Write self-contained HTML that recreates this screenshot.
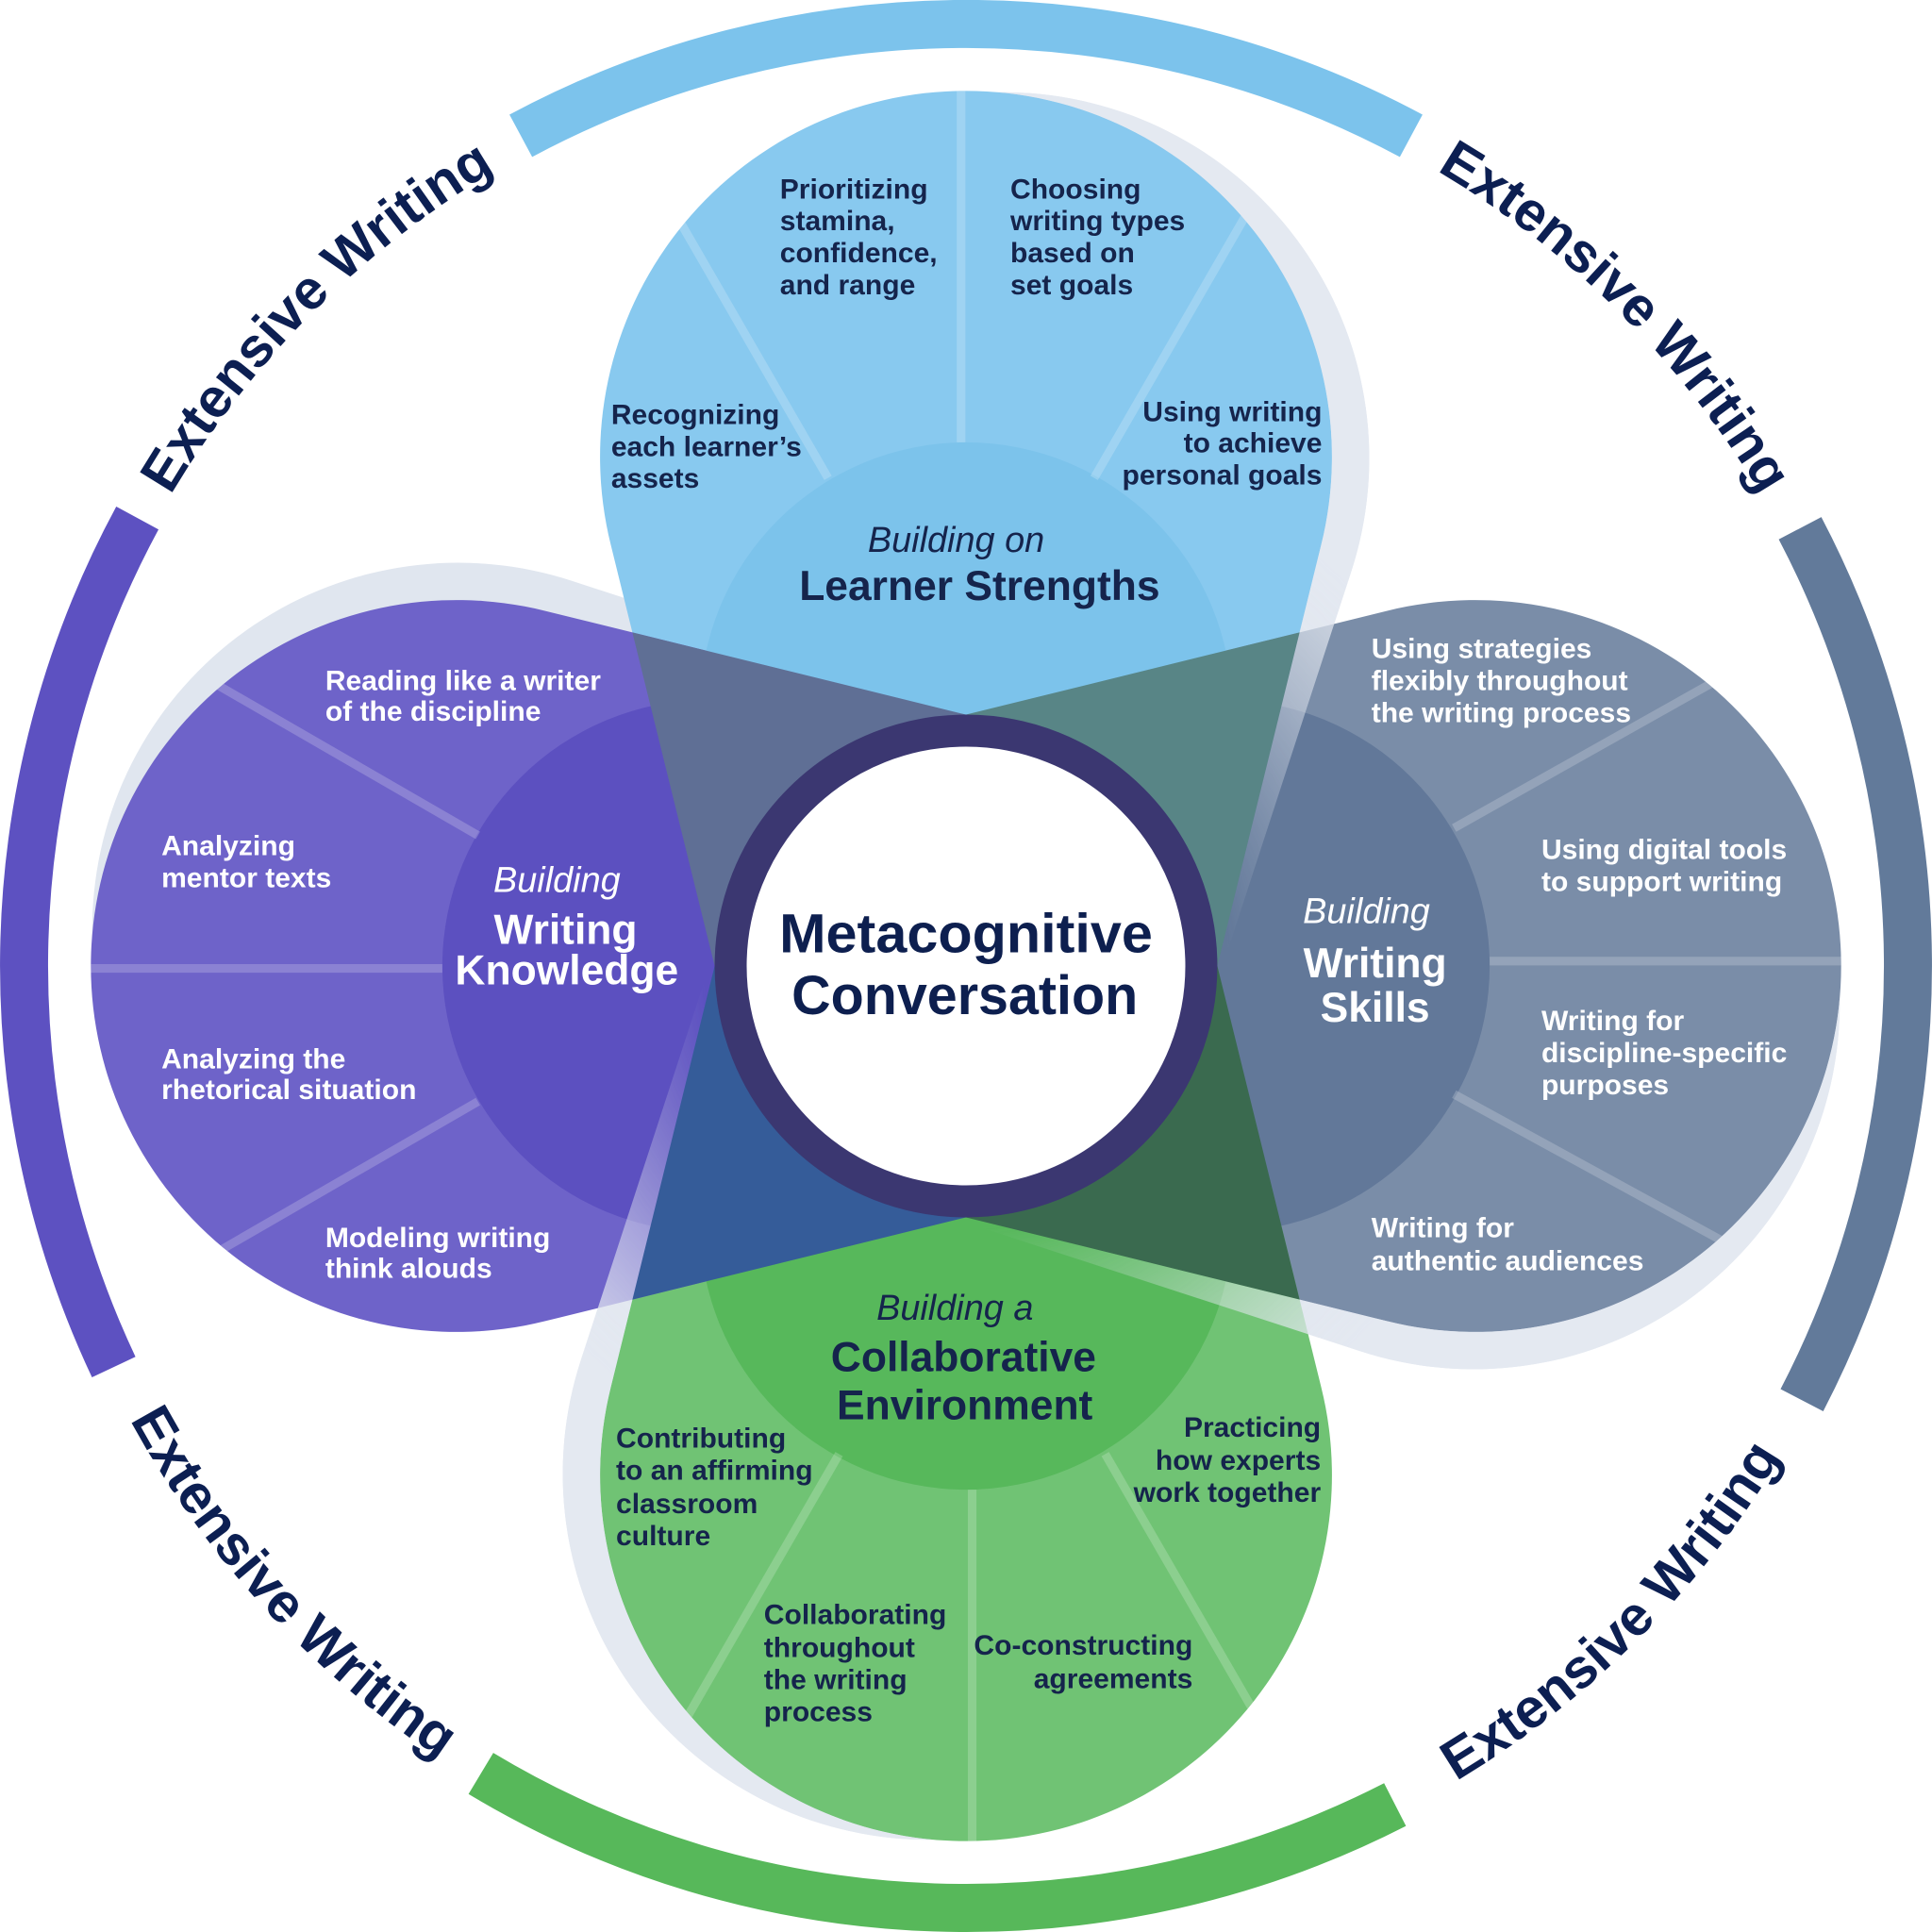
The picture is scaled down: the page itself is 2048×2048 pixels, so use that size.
<!DOCTYPE html>
<html>
<head>
<meta charset="utf-8">
<style>
html,body{margin:0;padding:0;background:#fff;}
svg{display:block;}
text{font-family:"Liberation Sans",Arial,sans-serif;}
</style>
</head>
<body>
<svg width="2048" height="2048" viewBox="0 0 1568 1568" xmlns="http://www.w3.org/2000/svg">
<defs>
  <clipPath id="cTop"><path d="M580,784 L495.7,442.1 A297,297 0 1,1 1072.3,442.1 L988,784 Z"/></clipPath>
  <clipPath id="cRight"><path d="M784,580 L1125.9,495.7 A297,297 0 1,1 1125.9,1072.3 L784,988 Z"/></clipPath>
  <clipPath id="cBottom"><path d="M988,784 L1072.3,1125.9 A297,297 0 1,1 495.7,1125.9 L580,784 Z"/></clipPath>
  <clipPath id="cLeft"><path d="M784,988 L442.1,1072.3 A297,297 0 1,1 442.1,495.7 L784,580 Z"/></clipPath>

  <radialGradient id="fadeG" gradientUnits="userSpaceOnUse" cx="784" cy="784" r="784">
    <stop offset="0.27" stop-color="#000"/>
    <stop offset="0.56" stop-color="#fff"/>
  </radialGradient>
  <mask id="mTop" maskUnits="userSpaceOnUse" x="0" y="0" width="1568" height="1568">
    <rect width="1568" height="1568" fill="url(#fadeG)"/>
    <path d="M580,784 L495.7,442.1 A297,297 0 1,1 1072.3,442.1 L988,784 Z" fill="#000"/>
  </mask>
  <mask id="mRight" maskUnits="userSpaceOnUse" x="0" y="0" width="1568" height="1568">
    <rect width="1568" height="1568" fill="url(#fadeG)"/>
    <path d="M784,580 L1125.9,495.7 A297,297 0 1,1 1125.9,1072.3 L784,988 Z" fill="#000"/>
  </mask>
  <mask id="mBottom" maskUnits="userSpaceOnUse" x="0" y="0" width="1568" height="1568">
    <rect width="1568" height="1568" fill="url(#fadeG)"/>
    <path d="M988,784 L1072.3,1125.9 A297,297 0 1,1 495.7,1125.9 L580,784 Z" fill="#000"/>
  </mask>

  <path id="twTL" d="M34,784 A750,750 0 0,1 784,34"/>
  <path id="twTR" d="M784,34 A750,750 0 0,1 1534,784"/>
  <path id="twBL" d="M12,784 A772,772 0 0,0 784,1556"/>
  <path id="twBR" d="M784,1556 A772,772 0 0,0 1556,784"/>
</defs>

<rect width="1568" height="1568" fill="#fff"/>

<!-- Outer arcs -->
<g fill="none" stroke-width="39">
  <path d="M422.7,110.2 A764.5,764.5 0 0,1 1145.3,110.2" stroke="#7cc3ec"/>
  <path d="M1460.9,428.7 A764.5,764.5 0 0,1 1462.4,1136.4" stroke="#627a9a"/>
  <path d="M1132.2,1464.6 A764.5,764.5 0 0,1 390.3,1439.3" stroke="#57b85a"/>
  <path d="M92.3,1109.5 A764.5,764.5 0 0,1 111.5,420.4" stroke="#5d51c1"/>
</g>

<!-- Extensive Writing labels -->
<g font-weight="bold" font-size="45" fill="#0c1f52">
  <text><textPath href="#twTL" startOffset="50%" text-anchor="middle">Extensive Writing</textPath></text>
  <text><textPath href="#twTR" startOffset="50%" text-anchor="middle">Extensive Writing</textPath></text>
  <text><textPath href="#twBL" startOffset="47.2%" text-anchor="middle">Extensive Writing</textPath></text>
  <text><textPath href="#twBR" startOffset="50%" text-anchor="middle">Extensive Writing</textPath></text>
</g>

<!-- Solid shadows -->
<g fill="#e0e6ef">
  <path d="M580,784 L495.7,442.1 A297,297 0 1,1 1072.3,442.1 L988,784 Z" transform="rotate(4.2 784 784)"/>
  <path d="M784,580 L1125.9,495.7 A297,297 0 1,1 1125.9,1072.3 L784,988 Z" transform="rotate(4.2 784 784)"/>
  <path d="M988,784 L1072.3,1125.9 A297,297 0 1,1 495.7,1125.9 L580,784 Z" transform="rotate(4.2 784 784)"/>
  <path d="M784,988 L442.1,1072.3 A297,297 0 1,1 442.1,495.7 L784,580 Z" transform="rotate(4.2 784 784)"/>
</g>

<!-- Petals -->
<path d="M580,784 L495.7,442.1 A297,297 0 1,1 1072.3,442.1 L988,784 Z" fill="#88c9ef"/>
<path d="M784,580 L1125.9,495.7 A297,297 0 1,1 1125.9,1072.3 L784,988 Z" fill="#7a8da8"/>
<path d="M988,784 L1072.3,1125.9 A297,297 0 1,1 495.7,1125.9 L580,784 Z" fill="#70c374"/>
<path d="M784,988 L442.1,1072.3 A297,297 0 1,1 442.1,495.7 L784,580 Z" fill="#6e63c9"/>

<!-- Hubs -->
<circle cx="784" cy="575" r="216" fill="#7cc3eb" clip-path="url(#cTop)"/>
<circle cx="993" cy="784" r="216" fill="#627899" clip-path="url(#cRight)"/>
<circle cx="784" cy="993" r="216" fill="#57b85b" clip-path="url(#cBottom)"/>
<circle cx="575" cy="784" r="216" fill="#5c50c0" clip-path="url(#cLeft)"/>

<!-- Spokes -->
<g stroke="#fff" stroke-opacity="0.2" stroke-width="7" fill="none">
  <g clip-path="url(#cTop)"><g transform="translate(-4,0)">
    <line x1="784" y1="359" x2="784" y2="55"/>
    <line x1="676" y1="387.9" x2="524" y2="124.7"/>
    <line x1="892" y1="387.9" x2="1044" y2="124.7"/>
  </g></g>
  <g clip-path="url(#cRight)"><g transform="translate(0,-4)">
    <line x1="1209" y1="784" x2="1513" y2="784"/>
    <line x1="1180.1" y1="676" x2="1443.3" y2="528"/>
    <line x1="1180.1" y1="892" x2="1443.3" y2="1036"/>
  </g></g>
  <g clip-path="url(#cBottom)"><g transform="translate(5,0)">
    <line x1="784" y1="1209" x2="784" y2="1513"/>
    <line x1="892" y1="1180.1" x2="1044" y2="1443.3"/>
    <line x1="676" y1="1180.1" x2="524" y2="1443.3"/>
  </g></g>
  <g clip-path="url(#cLeft)"><g transform="translate(0,2)">
    <line x1="359" y1="784" x2="55" y2="784"/>
    <line x1="387.9" y1="892" x2="124.7" y2="1044"/>
    <line x1="387.9" y1="676" x2="124.7" y2="524"/>
  </g></g>
</g>

<!-- Overlaps -->
<g clip-path="url(#cLeft)">
  <path d="M580,784 L495.7,442.1 A297,297 0 1,1 1072.3,442.1 L988,784 Z" fill="#5f6f95"/>
  <path d="M988,784 L1072.3,1125.9 A297,297 0 1,1 495.7,1125.9 L580,784 Z" fill="#355c99"/>
</g>
<g clip-path="url(#cRight)">
  <path d="M580,784 L495.7,442.1 A297,297 0 1,1 1072.3,442.1 L988,784 Z" fill="#588586"/>
  <path d="M988,784 L1072.3,1125.9 A297,297 0 1,1 495.7,1125.9 L580,784 Z" fill="#3a6a4f"/>
</g>

<!-- Shadow tails over neighbouring petals -->
<g mask="url(#mTop)"><path d="M580,784 L495.7,442.1 A297,297 0 1,1 1072.3,442.1 L988,784 Z" transform="rotate(4.2 784 784)" fill="#e4e9f1" opacity="0.85"/></g>
<g mask="url(#mRight)"><path d="M784,580 L1125.9,495.7 A297,297 0 1,1 1125.9,1072.3 L784,988 Z" transform="rotate(4.2 784 784)" fill="#e4e9f1" opacity="0.85"/></g>
<g mask="url(#mBottom)"><path d="M988,784 L1072.3,1125.9 A297,297 0 1,1 495.7,1125.9 L580,784 Z" transform="rotate(4.2 784 784)" fill="#e4e9f1" opacity="0.85"/></g>

<!-- Center ring -->
<circle cx="784" cy="784" r="191" fill="#fff" stroke="#3b3771" stroke-width="26"/>
<g font-weight="bold" font-size="45" fill="#0d1f4f" text-anchor="middle">
  <text x="784" y="773" textLength="303" lengthAdjust="spacingAndGlyphs">Metacognitive</text>
  <text x="783" y="823" textLength="281" lengthAdjust="spacingAndGlyphs">Conversation</text>
</g>

<!-- Top petal text -->
<g fill="#15244c" font-weight="bold" font-size="23">
  <text x="633" y="161">Prioritizing</text>
  <text x="633" y="187">stamina,</text>
  <text x="633" y="213">confidence,</text>
  <text x="633" y="239">and range</text>
  <text x="820" y="161">Choosing</text>
  <text x="820" y="187">writing types</text>
  <text x="820" y="213">based on</text>
  <text x="820" y="239">set goals</text>
  <text x="496" y="344">Recognizing</text>
  <text x="496" y="370">each learner’s</text>
  <text x="496" y="396">assets</text>
  <g text-anchor="end">
    <text x="1073" y="342">Using writing</text>
    <text x="1073" y="367">to achieve</text>
    <text x="1073" y="393">personal goals</text>
  </g>
</g>
<text x="776" y="448" fill="#15244c" font-style="italic" font-size="29" text-anchor="middle">Building on</text>
<text x="795" y="487" fill="#15244c" font-weight="bold" font-size="34" text-anchor="middle">Learner Strengths</text>

<!-- Left petal text -->
<g fill="#fff" font-weight="bold" font-size="23">
  <text x="264" y="560">Reading like a writer</text>
  <text x="264" y="585">of the discipline</text>
  <text x="131" y="694">Analyzing</text>
  <text x="131" y="720">mentor texts</text>
  <text x="131" y="867">Analyzing the</text>
  <text x="131" y="892">rhetorical situation</text>
  <text x="264" y="1012">Modeling writing</text>
  <text x="264" y="1037">think alouds</text>
</g>
<text x="452" y="724" fill="#fff" font-style="italic" font-size="29" text-anchor="middle">Building</text>
<g fill="#fff" font-weight="bold" font-size="34" text-anchor="middle">
  <text x="459" y="766">Writing</text>
  <text x="460" y="799">Knowledge</text>
</g>

<!-- Right petal text -->
<g fill="#fff" font-weight="bold" font-size="23">
  <text x="1113" y="534">Using strategies</text>
  <text x="1113" y="560">flexibly throughout</text>
  <text x="1113" y="586">the writing process</text>
  <text x="1251" y="697">Using digital tools</text>
  <text x="1251" y="723">to support writing</text>
  <text x="1251" y="836">Writing for</text>
  <text x="1251" y="862">discipline-specific</text>
  <text x="1251" y="888">purposes</text>
  <text x="1113" y="1004">Writing for</text>
  <text x="1113" y="1031">authentic audiences</text>
</g>
<text x="1109" y="749" fill="#fff" font-style="italic" font-size="29" text-anchor="middle">Building</text>
<g fill="#fff" font-weight="bold" font-size="34" text-anchor="middle">
  <text x="1116" y="793">Writing</text>
  <text x="1116" y="829">Skills</text>
</g>

<!-- Bottom petal text -->
<text x="775" y="1071" fill="#15244c" font-style="italic" font-size="29" text-anchor="middle">Building a</text>
<g fill="#15244c" font-weight="bold" font-size="34" text-anchor="middle">
  <text x="782" y="1113">Collaborative</text>
  <text x="783" y="1152">Environment</text>
</g>
<g fill="#15244c" font-weight="bold" font-size="23">
  <text x="500" y="1175">Contributing</text>
  <text x="500" y="1201">to an affirming</text>
  <text x="500" y="1228">classroom</text>
  <text x="500" y="1254">culture</text>
  <text x="620" y="1318">Collaborating</text>
  <text x="620" y="1345">throughout</text>
  <text x="620" y="1371">the writing</text>
  <text x="620" y="1397">process</text>
  <g text-anchor="end">
    <text x="1072" y="1166">Practicing</text>
    <text x="1072" y="1193">how experts</text>
    <text x="1072" y="1219">work together</text>
    <text x="968" y="1343">Co-constructing</text>
    <text x="968" y="1370">agreements</text>
  </g>
</g>
</svg>
</body>
</html>
